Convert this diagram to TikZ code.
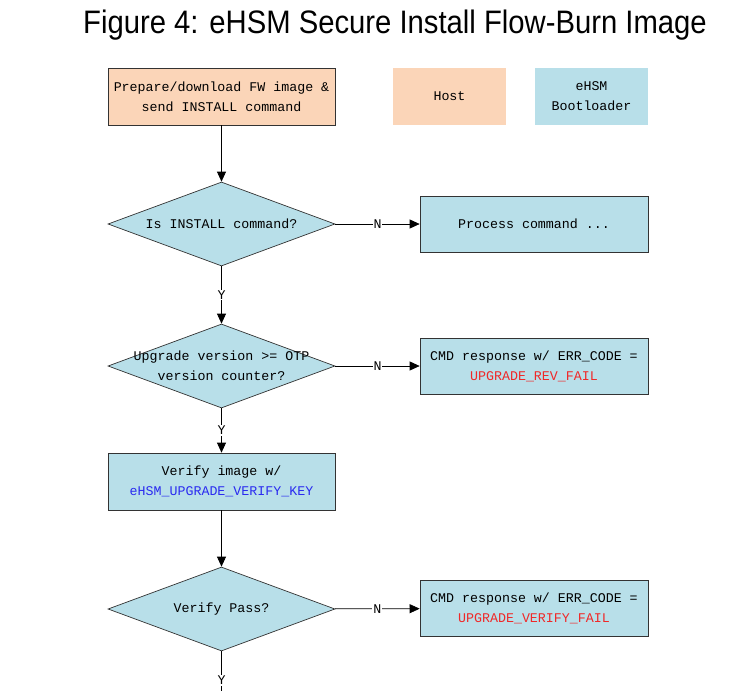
\documentclass[tikz,border=0pt]{standalone}
\usepackage{fontspec}
\setmainfont{Liberation Sans}
\newfontfamily\boxfont{Liberation Mono}
\usetikzlibrary{shapes.geometric,arrows.meta}
\definecolor{peach}{HTML}{FBD5B8}
\definecolor{lblue}{HTML}{B8DFE9}
\definecolor{errred}{HTML}{F02828}
\definecolor{keyblue}{HTML}{2A2AF0}
\tikzset{
  every node/.style={font=\boxfont\fontsize{13.3}{20}\selectfont},
  hostbox/.style={draw=black!80, line width=0.7pt, fill=peach, minimum width=227pt, minimum height=57pt, inner sep=0pt, align=center},
  bootbox/.style={draw=black!80, line width=0.7pt, fill=lblue, minimum width=228pt, minimum height=56pt, inner sep=0pt, align=center},
  legendbox/.style={minimum width=113pt, minimum height=57pt, inner sep=0pt, align=center},
  decision/.style={diamond, draw=black!80, line width=0.7pt, fill=lblue, minimum width=227pt, minimum height=84pt, inner sep=0pt},
  dtext/.style={align=center, inner sep=0pt},
  flow/.style={line width=0.7pt, -{Triangle[length=10pt,width=9pt]}},
  plainflow/.style={line width=0.7pt},
  lbl/.style={fill=white, inner sep=1pt}
}
\begin{document}
\begin{tikzpicture}[x=1pt,y=-1pt]
\useasboundingbox (0,0) rectangle (740,691);
\node[font=\fontsize{32.5}{34}\selectfont, anchor=base, inner sep=0pt] (title) at (395,33) {\scalebox{0.9}[1]{Figure 4: eHSM Secure Install Flow-Burn Image}};

\node[hostbox] (start) at (221.5,96.5) {Prepare/download FW image \&\\send INSTALL command};
\node[legendbox, fill=peach] (host) at (449.5,96.5) {Host};
\node[legendbox, fill=lblue] (boot) at (591.5,96.5) {eHSM\\Bootloader};

\node[decision] (d1) at (221.5,224) {};
\node[dtext] (d1t) at (d1.center) {Is INSTALL command?};
\node[bootbox] (proc) at (534,224) {Process command ...};

\node[decision] (d2) at (221.5,366) {};
\node[dtext] (d2t) at (d2.center) {Upgrade version >= OTP\\version counter?};
\node[bootbox] (cmd1) at (534,366) {CMD response w/ ERR\_CODE =\\\textcolor{errred}{UPGRADE\_REV\_FAIL}};

\node[hostbox, fill=lblue] (verify) at (221.5,481.5) {Verify image w/\\\textcolor{keyblue}{eHSM\_UPGRADE\_VERIFY\_KEY}};

\node[decision] (d3) at (221.5,609) {};
\node[dtext] (d3t) at (d3.center) {Verify Pass?};
\node[bootbox] (cmd2) at (534,608.5) {CMD response w/ ERR\_CODE =\\\textcolor{errred}{UPGRADE\_VERIFY\_FAIL}};

\coordinate (endpt) at (221.5,695);

\draw[flow] (start) -- (d1);
\draw[flow] (d1) -- node[lbl]{N} (proc);
\draw[flow] (d1) -- node[lbl]{Y} (d2);
\draw[flow] (d2) -- node[lbl]{N} (cmd1);
\draw[flow] (d2) -- node[lbl]{Y} (verify);
\draw[flow] (verify) -- (d3);
\draw[flow] (d3) -- node[lbl]{N} (cmd2);
\draw[plainflow] (d3) -- node[lbl, pos=0.66]{Y} (endpt);
\end{tikzpicture}
\end{document}
